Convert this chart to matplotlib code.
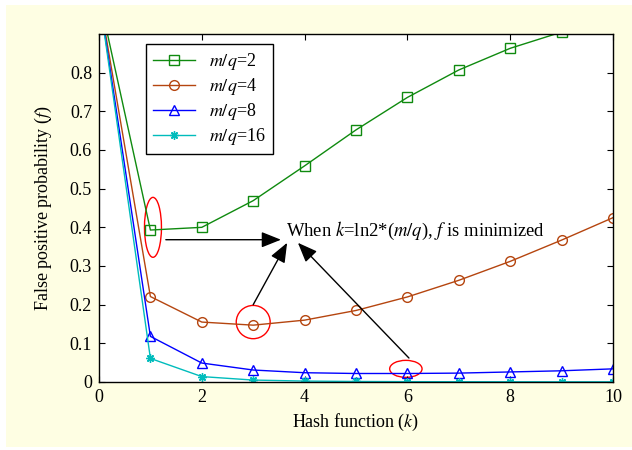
import numpy as np
import matplotlib.pyplot as plt
from matplotlib.patches import Ellipse, Rectangle

plt.rcParams['font.family'] = 'Liberation Serif'
plt.rcParams['mathtext.fontset'] = 'stix'

# hash function count k
k = [0, 1, 2, 3, 4, 5, 6, 7, 8, 9, 10]

# false positive probability f
f_mq2 = [1.0, 0.393, 0.400, 0.469, 0.559, 0.652, 0.736, 0.807, 0.863, 0.905, 0.935]
f_mq4 = [1.0, 0.221, 0.155, 0.147, 0.160, 0.185, 0.220, 0.263, 0.312, 0.367, 0.425]
f_mq8 = [1.0, 0.118, 0.049, 0.031, 0.024, 0.022, 0.022, 0.023, 0.026, 0.029, 0.034]
f_mq16 = [1.0, 0.061, 0.014, 0.005, 0.0024, 0.0014, 0.0009, 0.0007, 0.0006, 0.0005, 0.0005]

labels = ['$m/q$=2', '$m/q$=4', '$m/q$=8', '$m/q$=16']
xticks = [0, 2, 4, 6, 8, 10]
yticks = [0, 0.1, 0.2, 0.3, 0.4, 0.5, 0.6, 0.7, 0.8]
ytick_labels = ['0', '0.1', '0.2', '0.3', '0.4', '0.5', '0.6', '0.7', '0.8']

fig = plt.figure(figsize=(6.32, 4.5), dpi=100, facecolor='white')
# pale yellow panel behind the plot
fig.patches.append(Rectangle((6 / 632, 1 - 447 / 450), 626 / 632, 442 / 450,
                             transform=fig.transFigure, facecolor='#fefee3',
                             edgecolor='none', zorder=-10))
ax = fig.add_axes([99 / 632, 1 - 382 / 450, 514 / 632, 348 / 450])

ax.plot(k, f_mq2, '-s', color='#0f8a0f', mfc='none', ms=6.5, lw=1, label=labels[0])
ax.plot(k, f_mq4, '-o', color='#b5450f', mfc='none', ms=7, lw=1, label=labels[1])
ax.plot(k, f_mq8, '-^', color='#0000ff', mfc='none', ms=7, lw=1, label=labels[2])
ax.plot(k, f_mq16, '-', marker=(8, 2, 0), color='#00bcbc', ms=6, lw=1, label=labels[3])

ax.set_xlim(0, 10)
ax.set_ylim(0, 0.9)
ax.set_xticks(xticks)
ax.set_yticks(yticks)
ax.set_yticklabels(ytick_labels)
ax.tick_params(direction='in', top=True, right=True, labelsize=13, length=4, pad=5)
for s in ax.spines.values():
    s.set_linewidth(1)

ax.set_xlabel('Hash function ($k$)', fontsize=13)
ax.set_ylabel('False positive probability ($f$)', fontsize=13, labelpad=11)

leg = ax.legend(loc='upper left', bbox_to_anchor=(47 / 514, 338 / 348), fontsize=13,
                fancybox=False, edgecolor='black', framealpha=1, borderaxespad=0,
                handlelength=2.3, borderpad=0.4, labelspacing=0.22, handletextpad=0.8)
leg.get_frame().set_linewidth(1)

# red marks around the minima
ax.add_patch(Ellipse((1.05, 0.40), 0.33, 0.155, fill=False, edgecolor='red', lw=1))
ax.add_patch(Ellipse((3.0, 0.155), 0.66, 0.086, fill=False, edgecolor='red', lw=1))
ax.add_patch(Ellipse((5.97, 0.034), 0.63, 0.044, fill=False, edgecolor='red', lw=1))

ax.text(3.64, 0.39, 'When $k$=ln2*($m/q$), $f$ is minimized', fontsize=13.4,
        va='center', ha='left')

arrow = dict(arrowstyle='-|>,head_length=0.8,head_width=0.32', color='black',
             lw=1, shrinkA=0, shrinkB=0, mutation_scale=15)
ax.annotate('', xy=(3.54, 0.368), xytext=(1.3, 0.368), arrowprops=arrow)
ax.annotate('', xy=(3.66, 0.36), xytext=(3.0, 0.2), arrowprops=arrow)
ax.annotate('', xy=(3.87, 0.36), xytext=(6.03, 0.062), arrowprops=arrow)

fig.savefig('out.png', dpi=100, facecolor=fig.get_facecolor())
